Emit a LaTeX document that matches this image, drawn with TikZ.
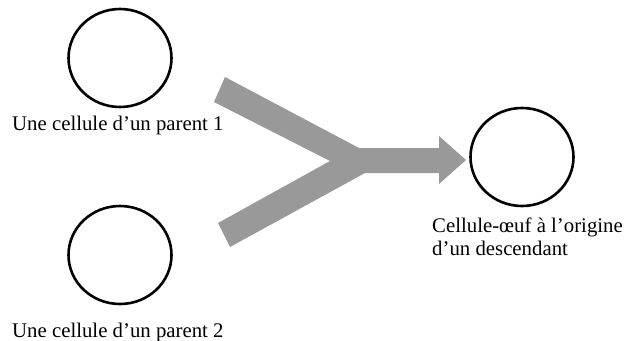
\documentclass[tikz,border=0pt]{standalone}
\usepackage{fontspec}
\setmainfont{Liberation Serif}
\usetikzlibrary{shapes.geometric}
\tikzset{
  cell/.style={draw=black, line width=2.6pt, ellipse, minimum width=103pt, minimum height=98pt, inner sep=0pt},
  lbl/.style={font=\fontsize{20.8}{23}\selectfont, inner sep=0pt, align=left},
  bigarrow/.style={fill=black!40, draw=none}
}
\begin{document}
\begin{tikzpicture}[x=1pt,y=-1pt]
\useasboundingbox (0,0) rectangle (626,340);
\node[cell] (c1) at (120,58) {};
\node[cell] (c2) at (120,255) {};
\node[cell] (c3) at (522,157) {};
\node[lbl, anchor=base west] (l1) at (12,130) {Une cellule d’un parent 1};
\node[lbl, anchor=base west] (l2) at (12,337) {Une cellule d’un parent 2};
\node[lbl, anchor=base west] (l3) at (432,255) {Cellule-œuf à l’origine\\d’un descendant};
\fill[bigarrow] (225,77) -- (359,148) -- (439,148) -- (439,136) -- (466,160) -- (439,184) -- (439,173) -- (365,173) -- (230,247) -- (218,223) -- (330,161) -- (214,102) -- cycle;
\end{tikzpicture}
\end{document}
